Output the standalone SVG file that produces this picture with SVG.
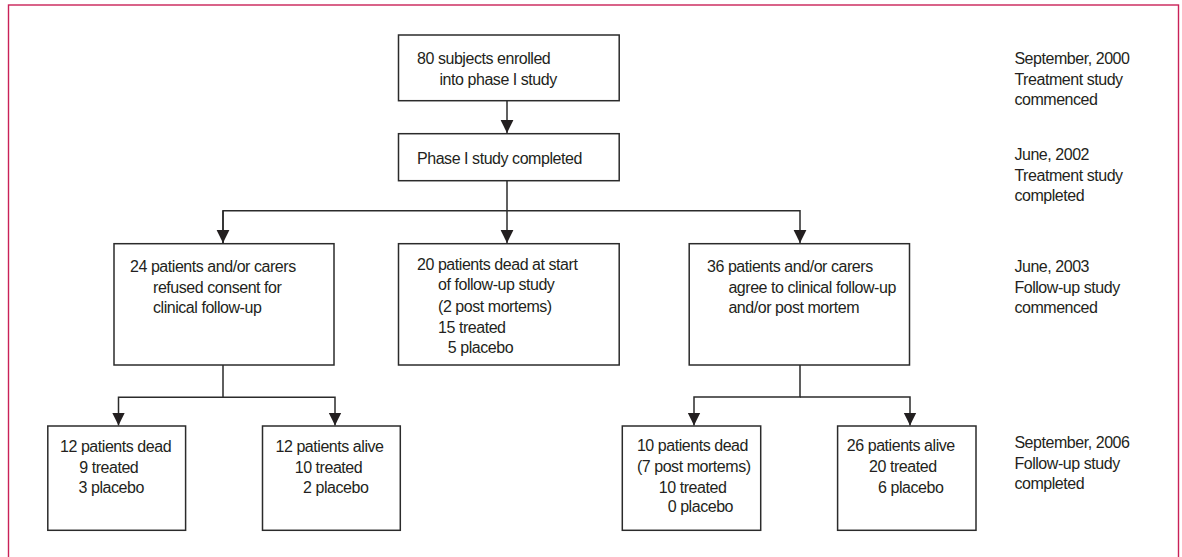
<svg xmlns="http://www.w3.org/2000/svg" width="1182" height="557" viewBox="0 0 1182 557">
<style>
.box{fill:#fff;stroke:#2b2b2b;stroke-width:1.5}
.t{font-family:"Liberation Sans",Arial,sans-serif;font-size:16px;letter-spacing:-0.45px;fill:#231f20}
.c{fill:none;stroke:#2b2b2b;stroke-width:1.5}
</style>
<defs>
<marker id="ah" markerUnits="userSpaceOnUse" markerWidth="14" markerHeight="14" viewBox="0 0 14 14" refX="13" refY="7" orient="auto">
<path d="M0,0.6 L13,7 L0,13.4 Z" fill="#231f20"/>
</marker>
</defs>
<rect x="0" y="0" width="1182" height="557" fill="#fff"/>
<rect x="8.5" y="5" width="1170" height="570" fill="none" stroke="#c92258" stroke-width="1.4"/>

<g id="connectors">
<path class="c" d="M507,100.7 V133" marker-end="url(#ah)"/>
<path class="c" d="M507,180.7 V243" marker-end="url(#ah)"/>
<path class="c" d="M223,243 V210.7 H800 V243" marker-end="url(#ah)"/>
<path class="c" d="M223,210.7 V243" marker-end="url(#ah)"/>
<path class="c" d="M223,365 V397.3 H118.5 V425.5" marker-end="url(#ah)"/>
<path class="c" d="M223,397.3 H335 V425.5" marker-end="url(#ah)"/>
<path class="c" d="M800,365 V397 H694 V425.5" marker-end="url(#ah)"/>
<path class="c" d="M800,397 H910 V425.5" marker-end="url(#ah)"/>
</g>

<g id="n-enrolled">
<rect class="box" x="398.5" y="35" width="220.7" height="65.7"/>
<text class="t" x="417" y="64">80 subjects enrolled</text>
<text class="t" x="439.5" y="85">into phase I study</text>
</g>
<g id="n-phase1">
<rect class="box" x="398.5" y="133.7" width="220.7" height="47"/>
<text class="t" x="417" y="164">Phase I study completed</text>
</g>
<g id="n-refused">
<rect class="box" x="114" y="243.7" width="220" height="121.3"/>
<text class="t" x="130" y="271.7">24 patients and/or carers</text>
<text class="t" x="153" y="292.7">refused consent for</text>
<text class="t" x="153" y="313.3">clinical follow-up</text>
</g>
<g id="n-dead-start">
<rect class="box" x="398.5" y="243.7" width="220.7" height="121.3"/>
<text class="t" x="417" y="270">20 patients dead at start</text>
<text class="t" x="438" y="290">of follow-up study</text>
<text class="t" x="438" y="311.7">(2 post mortems)</text>
<text class="t" x="438" y="332.7">15 treated</text>
<text class="t" x="447.8" y="352.7">5 placebo</text>
</g>
<g id="n-agree">
<rect class="box" x="689.2" y="243.7" width="220.3" height="121.3"/>
<text class="t" x="707" y="271.7">36 patients and/or carers</text>
<text class="t" x="728.4" y="292.7">agree to clinical follow-up</text>
<text class="t" x="728.4" y="313.3">and/or post mortem</text>
</g>
<g id="n-ll">
<rect class="box" x="47.8" y="426" width="137.8" height="104.3"/>
<text class="t" x="60" y="451.7">12 patients dead</text>
<text class="t" x="79.2" y="473">9 treated</text>
<text class="t" x="78.5" y="493.3">3 placebo</text>
</g>
<g id="n-lr">
<rect class="box" x="262.5" y="426" width="137.8" height="104.3"/>
<text class="t" x="275.5" y="451.7">12 patients alive</text>
<text class="t" x="294.7" y="473">10 treated</text>
<text class="t" x="303" y="493.3">2 placebo</text>
</g>
<g id="n-rl">
<rect class="box" x="622.3" y="426" width="138.4" height="104.3"/>
<text class="t" x="636.9" y="450.7">10 patients dead</text>
<text class="t" x="636.9" y="471.7">(7 post mortems)</text>
<text class="t" x="658.8" y="492.7">10 treated</text>
<text class="t" x="667.7" y="512.3">0 placebo</text>
</g>
<g id="n-rr">
<rect class="box" x="837.6" y="426" width="138.4" height="104.3"/>
<text class="t" x="846.8" y="450.7">26 patients alive</text>
<text class="t" x="869.1" y="471.7">20 treated</text>
<text class="t" x="878" y="492.7">6 placebo</text>
</g>

<g id="timeline">
<text class="t" x="1014.4" y="64">September, 2000</text>
<text class="t" x="1014.4" y="85">Treatment study</text>
<text class="t" x="1014.4" y="105">commenced</text>
<text class="t" x="1014.4" y="160">June, 2002</text>
<text class="t" x="1014.4" y="180.7">Treatment study</text>
<text class="t" x="1014.4" y="200.5">completed</text>
<text class="t" x="1014.4" y="271.7">June, 2003</text>
<text class="t" x="1014.4" y="292.7">Follow-up study</text>
<text class="t" x="1014.4" y="313.3">commenced</text>
<text class="t" x="1014.4" y="448.3">September, 2006</text>
<text class="t" x="1014.4" y="469.3">Follow-up study</text>
<text class="t" x="1014.4" y="489.3">completed</text>
</g>
</svg>
